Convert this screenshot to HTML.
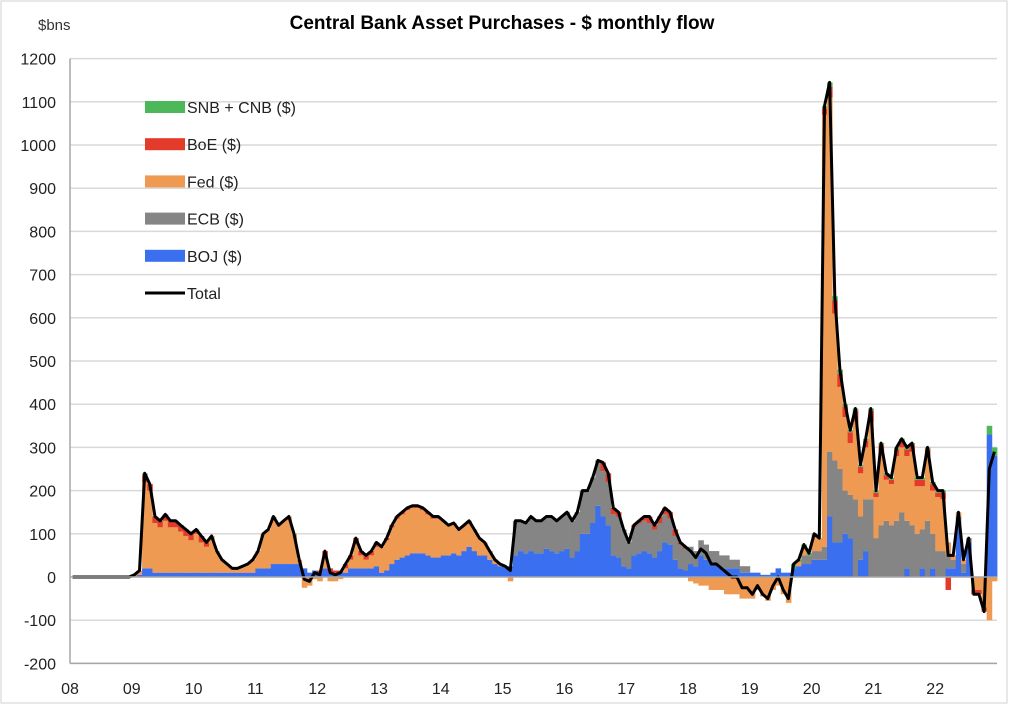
<!DOCTYPE html>
<html><head><meta charset="utf-8"><style>
body{margin:0;background:#fff;font-family:"Liberation Sans",sans-serif;}
svg text{font-family:"Liberation Sans",sans-serif;}
</style></head><body>
<svg id="chart" width="1010" height="706" xmlns="http://www.w3.org/2000/svg">
<rect x="1" y="1" width="1006" height="702" fill="#fff" stroke="#d0d0d0"/>
<text x="502" y="29" text-anchor="middle" font-size="19" font-weight="bold" fill="#000">Central Bank Asset Purchases - $ monthly flow</text>
<text x="38" y="30" font-size="15" fill="#333">$bns</text>
<g id="grid"></g><g id="bars"></g><g id="line"></g><g id="axes"></g><g id="legend"></g>
</svg>
<script>
const years=["08","09","10","11","12","13","14","15","16","17","18","19","20","21","22"];
const yTicks=[-200,-100,0,100,200,300,400,500,600,700,800,900,1000,1100,1200];
const boj=[0,0,0,0,0,0,0,0,0,0,0,0,
0,5,20,20,10,10,10,10,10,10,10,10,
10,10,10,10,10,10,10,10,10,10,10,10,
20,20,20,30,30,30,30,30,30,20,10,15,
10,20,10,10,10,10,20,20,20,20,20,25,
10,15,30,40,45,50,55,55,55,50,45,45,
50,50,55,50,60,70,60,50,50,40,30,25,
25,25,50,60,55,60,55,55,65,60,55,60,
65,45,60,100,100,125,165,140,120,50,45,25,
20,50,55,60,55,45,60,80,75,40,20,15,
30,25,50,40,30,30,20,20,20,20,10,10,
10,10,5,5,10,20,10,10,20,25,30,30,
40,40,40,140,80,80,100,90,0,40,60,0,
0,0,0,0,0,0,20,0,0,20,0,20,
0,0,20,20,120,10,80,0,0,0,330,280];
const ecb=[0,0,0,0,0,0,0,0,0,0,0,0,
0,0,0,0,0,0,0,0,0,0,0,0,
0,0,0,0,0,0,0,0,0,0,0,0,
0,0,0,0,0,0,0,0,0,0,0,0,
0,0,0,0,0,0,0,0,0,0,0,0,
0,0,0,0,0,0,0,0,0,0,0,0,
0,0,0,0,0,0,0,0,0,0,0,0,
0,0,80,70,70,80,75,75,75,80,75,80,
85,85,90,100,100,105,105,105,100,95,95,85,
60,65,70,70,70,65,65,65,60,55,55,50,
40,35,35,35,30,30,30,30,20,20,15,15,
0,0,0,0,0,0,0,0,0,0,20,20,
20,20,30,150,190,170,100,100,180,100,120,180,
90,120,130,120,130,150,110,120,100,90,130,80,
60,60,30,20,20,20,10,0,0,0,0,0];
const fed=[0,0,0,0,0,0,0,0,0,0,0,0,
5,10,200,180,115,105,120,105,105,95,85,75,
90,70,60,85,50,30,20,10,10,15,20,30,
40,80,90,110,90,100,110,70,10,-25,-20,-5,
-10,30,-10,-10,-5,10,20,55,30,20,30,45,
60,70,85,95,100,105,105,105,100,95,90,90,
80,70,70,60,60,60,50,40,30,20,10,5,
0,-10,0,0,0,0,0,0,0,0,0,0,
0,0,0,0,0,0,0,0,0,0,0,0,
0,0,0,0,0,0,0,0,0,0,0,0,
-10,-15,-20,-20,-30,-30,-30,-40,-40,-40,-50,-50,
-50,-30,-45,-55,-30,-20,-40,-60,0,10,20,0,
40,30,1000,820,340,190,170,120,180,100,120,180,
95,170,95,95,150,150,150,170,110,100,150,100,
125,120,30,10,10,10,0,-30,-30,-70,-100,-10];
const boe=[0,0,0,0,0,0,0,0,0,0,0,0,
0,0,15,15,15,15,15,15,15,15,15,15,
10,15,10,0,0,0,0,0,0,0,0,0,
0,0,0,0,0,0,0,0,0,0,0,0,
5,10,10,5,5,10,10,15,10,10,10,10,
0,5,5,5,5,5,5,5,5,5,5,5,
0,0,0,0,0,0,0,0,0,0,0,0,
0,0,0,0,0,0,0,0,0,0,0,0,
0,0,0,0,0,0,0,20,20,15,10,0,
0,5,5,10,15,10,15,15,15,15,5,5,
0,0,0,0,0,0,0,0,0,0,0,0,
0,0,0,0,0,0,0,0,0,0,0,0,
0,0,15,25,30,30,25,25,25,15,15,25,
10,15,10,10,15,15,15,15,15,15,15,15,
10,15,-30,0,0,0,0,-10,-10,-10,0,0];
const snb=[0,0,0,0,0,0,0,0,0,0,0,0,
0,0,5,0,0,0,0,0,0,0,0,0,
0,0,0,0,0,0,0,0,0,0,0,0,
0,0,0,0,0,0,0,0,0,0,0,0,
0,0,0,0,0,0,0,0,0,0,0,0,
0,0,0,0,0,0,0,0,0,0,0,0,
0,0,0,0,0,0,0,0,0,0,0,0,
0,0,0,0,0,0,0,0,0,0,0,0,
0,0,0,0,0,0,0,0,0,0,0,0,
0,0,0,0,0,0,0,0,0,0,0,0,
0,0,0,0,0,0,0,0,0,0,0,0,
0,0,0,0,0,0,0,0,10,5,5,5,
0,0,5,10,10,10,5,5,5,5,5,5,
5,5,5,5,5,5,5,5,5,5,5,5,
5,5,0,0,0,0,0,0,0,0,20,20];
const NS="http://www.w3.org/2000/svg";
const X0=70,X1=997,Y0=577,PER=43.2,N=boj.length;
const bw=(X1-X0)/N;
const yS=v=>Y0-v*PER/100;
const xS=i=>X0+i*bw;
function mk(tag,attrs,parent){const e=document.createElementNS(NS,tag);for(const k in attrs)e.setAttribute(k,attrs[k]);parent.appendChild(e);return e;}
const grid=document.getElementById('grid'),axes=document.getElementById('axes');
yTicks.forEach(t=>{
 if(t!==0){const g=mk('line',{x1:X0,x2:X1,y1:yS(t),y2:yS(t),stroke:'#d9d9d9','stroke-width':1.5},grid);
 
 }
 const l=mk('text',{x:56,y:yS(t)+6,'text-anchor':'end','font-size':16,fill:'#222'},axes);l.textContent=t;
 
 
});
const series=[{d:boj,c:'#3a6ff0',n:'boj'},{d:ecb,c:'#858585',n:'ecb'},{d:fed,c:'#ee9a52',n:'fed'},{d:boe,c:'#e43a2a',n:'boe'},{d:snb,c:'#4cb85a',n:'snb'}];
const bars=document.getElementById('bars');
for(let i=0;i<N;i++){let p=0,q=0;
 series.forEach(s=>{const v=s.d[i];if(!v)return;let a,b;
  if(v>0){a=p;b=p+v;p=b;}else{a=q;b=q+v;q=b;}
  const r=mk('rect',{x:xS(i),y:Math.min(yS(a),yS(b)),width:bw+0.4,height:Math.abs(yS(a)-yS(b)),fill:s.c},bars);
  
  
 });}
let pts=[];for(let i=0;i<N;i++){const t=boj[i]+ecb[i]+fed[i]+boe[i]+snb[i];pts.push((xS(i)+bw/2).toFixed(1)+','+yS(t).toFixed(1));}
const pl=mk('polyline',{points:pts.join(' '),fill:'none',stroke:'#000','stroke-width':3,'stroke-linejoin':'round'},document.getElementById('line'));


const ax=mk('line',{x1:X0,x2:X1,y1:Y0,y2:Y0,stroke:'#a6a6a6','stroke-width':1.5},axes);


const vax=mk('line',{x1:X0,x2:X0,y1:yS(1200),y2:yS(-200),stroke:'#a6a6a6','stroke-width':1.5},axes);


const bax=mk('line',{x1:X0,x2:X1,y1:yS(-200),y2:yS(-200),stroke:'#a6a6a6','stroke-width':1.5},axes);


years.forEach((y,k)=>{const t=mk('text',{x:xS(k*12),y:694,'text-anchor':'middle','font-size':16,fill:'#222'},axes);t.textContent=y;
 
 });
const legNames=["SNB + CNB ($)","BoE ($)","Fed ($)","ECB ($)","BOJ ($)","Total"];
const legColors=['#4cb85a','#e43a2a','#ee9a52','#858585','#3a6ff0','#000'];
const leg=document.getElementById('legend');
legNames.forEach((n,k)=>{const y=107+k*37.2;
 let s;
 if(k<5){s=mk('rect',{x:145,y:y-6,width:40,height:12,fill:legColors[k]},leg);}
 else{s=mk('line',{x1:145,x2:185,y1:y,y2:y,stroke:'#000','stroke-width':3},leg);}
 
 
 const t=mk('text',{x:187,y:y+6,'font-size':16,fill:'#222'},leg);t.textContent=n;
 
 
});
</script>
</body></html>
